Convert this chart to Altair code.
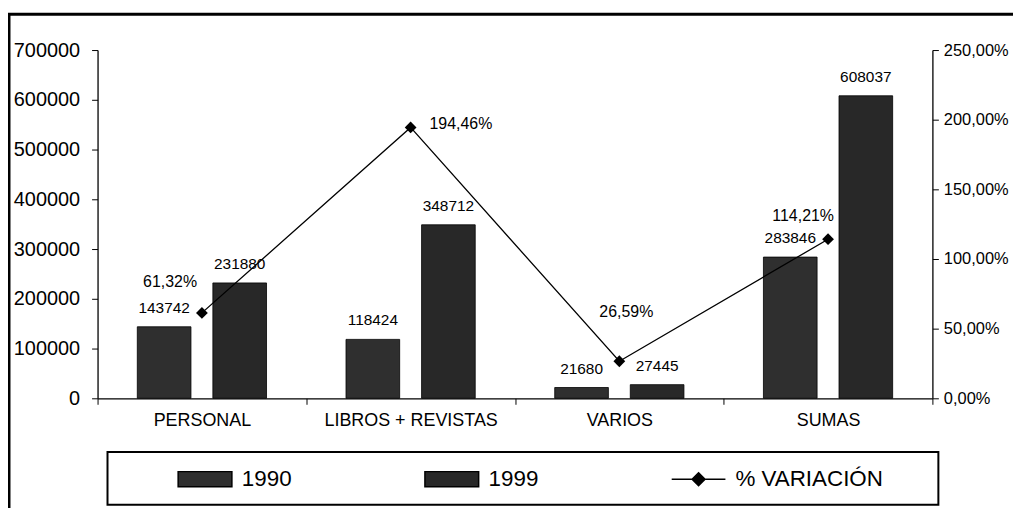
import altair as alt
import pandas as pd

# ---------------- data ----------------
categories = ["PERSONAL", "LIBROS + REVISTAS", "VARIOS", "SUMAS"]
years = ["1990", "1999"]
v1990 = [143742, 118424, 21680, 283846]
v1999 = [231880, 348712, 27445, 608037]
pct_var = [61.32, 194.46, 26.59, 114.21]
pct_text = ["61,32%", "194,46%", "26,59%", "114,21%"]
series_names = ["1990", "1999", "% VARIACIÓN"]
left_ticks = [0, 100000, 200000, 300000, 400000, 500000, 600000, 700000]
right_ticks = [0, 50, 100, 150, 200, 250]

# ---------------- styles ----------------
FONT = "Liberation Sans"
bar_colors = ["#2f2f2f", "#282828"]
series_colors = ["#2f2f2f", "#282828", "#000000"]
series_strokes = ["#000000", "#000000", "#000000"]
pct_label_styles = [
    dict(align="center", dx=-32, dy=-31),
    dict(align="left", dx=19, dy=-3),
    dict(align="center", dx=7, dy=-49),
    dict(align="center", dx=-25, dy=-23),
]
RECT_PATH = "M-1,-0.28H1V0.28H-1Z"
LINE_PATH = "M-1,0H1M0,-0.24L0.24,0L0,0.24L-0.24,0Z"
series_shapes = [RECT_PATH, RECT_PATH, LINE_PATH]

bars_df = pd.DataFrame({
    "cat": categories * 2,
    "series": [years[0]] * len(categories) + [years[1]] * len(categories),
    "value": v1990 + v1999,
})
bars_df["label"] = bars_df["value"].astype(str)
pct_df = pd.DataFrame({"cat": categories, "pct": pct_var, "label": pct_text})
legend_df = pd.DataFrame({"series": series_names})
deco_df = pd.DataFrame({"k": [0]})

x_enc = alt.X(
    "cat:N", sort=categories,
    scale=alt.Scale(paddingInner=0, paddingOuter=0),
    axis=alt.Axis(title=None, labelAngle=0, labelFont=FONT, labelFontSize=18,
                  labelColor="black", tickBand="extent", tickSize=6,
                  tickColor="black", domainColor="black", domainWidth=1.3,
                  labelPadding=7, grid=False),
)
xoff = alt.XOffset("series:N", sort=years,
                   scale=alt.Scale(paddingInner=0.29, paddingOuter=0.526))

y_left = alt.Y(
    "value:Q", scale=alt.Scale(domain=[0, 700000], nice=False),
    axis=alt.Axis(title=None, values=left_ticks, format="d", grid=False,
                  labelFont=FONT, labelFontSize=20, labelColor="black",
                  tickColor="black", domainColor="black", domainWidth=1.3,
                  tickSize=6, labelPadding=12, orient="left"),
)
y_right = alt.Y(
    "pct:Q", scale=alt.Scale(domain=[0, 250], nice=False),
    axis=alt.Axis(title=None, values=right_ticks, grid=False, orient="right",
                  labelExpr="replace(format(datum.value, '.2f'), '.', ',') + '%'",
                  labelFont=FONT, labelFontSize=16.5, labelColor="black",
                  tickColor="black", domainColor="black", domainWidth=1.3,
                  tickSize=6, labelPadding=5),
)

legend = alt.Legend(
    title=None, orient="none", legendX=80, legendY=403, direction="horizontal",
    columns=3, symbolSize=2916, labelFont=FONT, labelFontSize=22.5,
    labelColor="black", labelOffset=9, columnPadding=130, padding=0,
    symbolStrokeWidth=1.5, symbolOpacity=1,
)

bars = alt.Chart(bars_df).mark_bar(stroke="black", strokeWidth=0.8).encode(
    x=x_enc, xOffset=xoff, y=y_left,
    color=alt.Color("series:N", scale=alt.Scale(domain=years, range=bar_colors),
                    legend=None),
)
bar_labels = alt.Chart(bars_df).mark_text(
    baseline="bottom", dy=-11, font=FONT, fontSize=15.5, color="black"
).encode(x=x_enc, xOffset=xoff, y=y_left, text="label:N")

# legend-only layer: builds the merged legend (fill + stroke + shape), draws nothing visible
legend_layer = alt.Chart(legend_df).mark_point(
    opacity=0, size=1, strokeWidth=1.5
).encode(
    fill=alt.Fill("series:N", scale=alt.Scale(domain=series_names, range=series_colors),
                  legend=legend),
    stroke=alt.Stroke("series:N", scale=alt.Scale(domain=series_names, range=series_strokes),
                      legend=legend),
    shape=alt.Shape("series:N", scale=alt.Scale(domain=series_names, range=series_shapes),
                    legend=legend),
)

left = alt.layer(bars, bar_labels, legend_layer)

line = alt.Chart(pct_df).mark_line(color="black", strokeWidth=1.3).encode(x=x_enc, y=y_right)
points = alt.Chart(pct_df).mark_point(
    shape="diamond", filled=True, color="black", size=140, opacity=1
).encode(x=x_enc, y=y_right)
pct_layers = [
    alt.Chart(pct_df).transform_filter(alt.datum.cat == c).mark_text(
        baseline="middle", font=FONT, fontSize=16, color="black", **st
    ).encode(x=x_enc, y=y_right, text="label:N")
    for c, st in zip(categories, pct_label_styles)
]
right = alt.layer(line, points, *pct_layers)

frame = alt.Chart(deco_df).mark_rect(fillOpacity=0, stroke="black", strokeWidth=3).encode(
    x=alt.value(-89), x2=alt.value(1200), y=alt.value(-36), y2=alt.value(800)
)
legend_box = alt.Chart(deco_df).mark_rect(fillOpacity=0, stroke="black", strokeWidth=2).encode(
    x=alt.value(10), x2=alt.value(845), y=alt.value(404), y2=alt.value(457)
)

chart = alt.layer(left, right, frame, legend_box).resolve_scale(y="independent").properties(
    width=839, height=350,
    autosize=alt.AutoSizeParams(type="none"),
    padding={"left": 90, "top": 41, "right": 81, "bottom": 109},
    background="white",
).configure_view(stroke=None)

chart.save("out.html", embed_options={"renderer": "svg", "actions": False})
